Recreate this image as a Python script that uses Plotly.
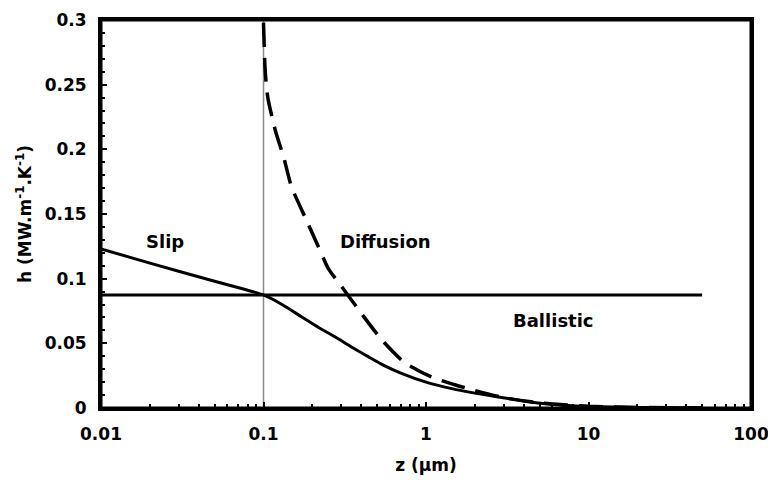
import numpy as np
import plotly.graph_objects as go

# Data
z_slip = [0.01, 0.02, 0.05, 0.1, 0.13, 0.171, 0.22, 0.275, 0.35, 0.441, 0.55, 0.706,
          1.0, 1.44, 2.0, 2.79, 4.46, 7.1, 10, 20, 50]
h_slip = [0.123, 0.112, 0.098, 0.0874, 0.080, 0.0706, 0.062, 0.0551, 0.047, 0.0397, 0.033, 0.0268,
          0.020, 0.0150, 0.0115, 0.0085, 0.0045, 0.0022, 0.0012, 0.0004, 0.0001]

z_diff = [0.1, 0.102, 0.1043, 0.107, 0.118, 0.1337, 0.1487, 0.1795, 0.217, 0.25, 0.302, 0.401,
          0.532, 0.74, 1.08, 1.5, 2.0, 3.0, 5.0, 7.0, 10, 20, 50]
h_diff = [0.298, 0.265, 0.248, 0.238, 0.215, 0.193, 0.171, 0.148, 0.125, 0.108, 0.094, 0.073,
          0.053, 0.035, 0.024, 0.018, 0.0135, 0.008, 0.004, 0.0025, 0.0013, 0.0004, 0.0001]

z_ball = [0.01, 50]
h_ball = [0.0874, 0.0874]

z_ref = [0.1, 0.1]
h_ref = [0.0, 0.3]

labels = ["Slip", "Diffusion", "Ballistic"]
label_z = [0.0248, 0.567, 6.05]
label_h = [0.129, 0.129, 0.068]

x_ticks = [0.01, 0.1, 1, 10, 100]
x_ticktext = ["0.01", "0.1", "1", "10", "100"]
x_minor = [m * d for d in [0.01, 0.1, 1, 10] for m in range(2, 10)]
y_ticks = [0, 0.05, 0.1, 0.15, 0.2, 0.25, 0.3]
y_ticktext = ["0", "0.05", "0.1", "0.15", "0.2", "0.25", "0.3"]

FONT = "DejaVu Sans"
TICKF = dict(family=FONT, size=17, color="black", weight=700)
TITLEF = dict(family=FONT, size=17, color="black", weight=700)

fig = go.Figure()
fig.add_trace(go.Scatter(x=z_ref, y=h_ref, mode="lines",
                         line=dict(color="#8a8a8a", width=1.5), showlegend=False))
fig.add_trace(go.Scatter(x=z_ball, y=h_ball, mode="lines",
                         line=dict(color="black", width=3), showlegend=False))
fig.add_trace(go.Scatter(x=z_slip, y=h_slip, mode="lines", line_shape="spline",
                         line=dict(color="black", width=3, smoothing=0.6), showlegend=False))
fig.add_trace(go.Scatter(x=z_diff, y=h_diff, mode="lines", line_shape="spline",
                         line=dict(color="black", width=3.5, dash="24px,11px", smoothing=0.6),
                         showlegend=False))

for t, zx, hy in zip(labels, label_z, label_h):
    fig.add_annotation(x=np.log10(zx), y=hy, text=t, showarrow=False,
                       font=dict(family=FONT, size=18, color="black", weight=700))

# plot frame
fig.add_shape(type="rect", xref="paper", yref="paper", x0=0, y0=0, x1=1, y1=1,
              line=dict(color="black", width=3), layer="above")

fig.update_xaxes(type="log", range=[-2, 2], tickvals=x_ticks, ticktext=x_ticktext,
                 ticks="inside", ticklen=6, tickwidth=2, tickcolor="black",
                 minor=dict(ticks="inside", ticklen=4, tickwidth=1.5, tickcolor="black",
                            tickvals=x_minor, showgrid=False),
                 showline=True, linewidth=3, linecolor="black", mirror=True,
                 showgrid=False, zeroline=False, ticklabelstandoff=9, automargin=False,
                 tickfont=TICKF,
                 title=dict(text="z (µm)", standoff=16, font=TITLEF))
fig.update_yaxes(range=[0, 0.3], tickvals=y_ticks, ticktext=y_ticktext,
                 ticks="inside", ticklen=6, tickwidth=2, tickcolor="black",
                 minor=dict(ticks="inside", ticklen=4, tickwidth=1.5, tickcolor="black",
                            dtick=0.01, showgrid=False),
                 showline=True, linewidth=3, linecolor="black", mirror=True,
                 showgrid=False, zeroline=False, ticklabelstandoff=8, automargin=False,
                 tickfont=TICKF,
                 title=dict(text="h (MW.m<sup>-1</sup>.K<sup>-1</sup>)", standoff=9, font=TITLEF))

fig.update_layout(width=776, height=480, margin=dict(l=93, r=33, t=12, b=80),
                  plot_bgcolor="white", paper_bgcolor="white", showlegend=False)

fig.write_html("out.html")
